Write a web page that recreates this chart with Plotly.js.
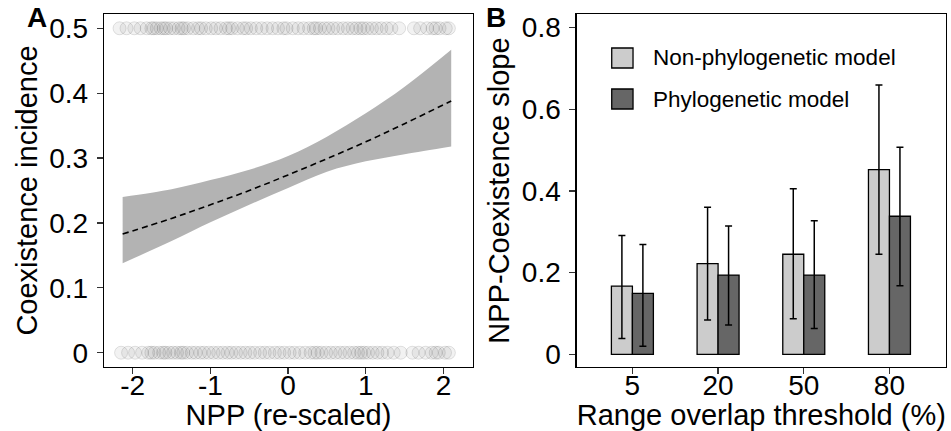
<!DOCTYPE html>
<html><head><meta charset="utf-8">
<script src="https://cdn.plot.ly/plotly-3.0.1.min.js"></script>
<style>html,body{margin:0;padding:0;background:#fff}#chart{width:951px;height:431px}</style>
</head><body><div id="chart"></div>
<script>
// Panel A: fitted logistic curve with confidence band
const nppGrid = [-2.13, -1.5, -1.0, -0.5, 0, 0.5, 1.0, 1.5, 2.1];
const fitLine = [0.183, 0.207, 0.228, 0.250, 0.274, 0.299, 0.325, 0.353, 0.388];
const ciUpper = [0.240, 0.252, 0.266, 0.282, 0.303, 0.333, 0.369, 0.410, 0.467];
const ciLower = [0.138, 0.172, 0.201, 0.228, 0.254, 0.279, 0.295, 0.306, 0.318];
// observed pairs (coexisting drawn at 0.5, not coexisting at 0)
const obsCoexistX = [-2.17,-2.08,-1.98,-1.9,-1.82,-1.76,-1.73,-1.69,-1.64,-1.6,-1.57,-1.52,-1.47,-1.41,-1.37,-1.34,-1.29,-1.22,-1.16,-1.12,-1.06,-0.99,-0.93,-0.87,-0.8,-0.76,-0.72,-0.65,-0.58,-0.54,-0.48,-0.41,-0.34,-0.27,-0.2,-0.13,-0.06,-0.02,0.06,0.13,0.2,0.27,0.33,0.36,0.41,0.47,0.52,0.58,0.64,0.71,0.77,0.83,0.88,0.93,0.97,1.02,1.08,1.14,1.2,1.27,1.33,1.43,1.62,1.7,1.79,1.86,1.9,1.95,2.03,2.07];
const obsNoCoexistX = [-2.15,-2.06,-1.97,-1.88,-1.8,-1.76,-1.72,-1.66,-1.61,-1.58,-1.53,-1.48,-1.43,-1.38,-1.35,-1.3,-1.24,-1.19,-1.13,-1.08,-1.02,-0.96,-0.9,-0.84,-0.78,-0.73,-0.67,-0.61,-0.55,-0.49,-0.43,-0.36,-0.3,-0.24,-0.17,-0.11,-0.05,0.02,0.08,0.15,0.22,0.29,0.34,0.38,0.43,0.49,0.55,0.61,0.67,0.73,0.79,0.85,0.9,0.94,0.98,1.03,1.09,1.15,1.21,1.28,1.36,1.45,1.6,1.68,1.77,1.85,1.9,1.94,2.02,2.07];
const coexistLevel = 0.5;
const noCoexistLevel = 0;

// Panel B: NPP-coexistence slopes
const thresholds = ['5', '20', '50', '80'];
const slopeNonPhylo = [0.167, 0.222, 0.245, 0.452];
const upperNonPhylo = [0.291, 0.360, 0.405, 0.659];
const lowerNonPhylo = [0.039, 0.084, 0.087, 0.245];
const slopePhylo = [0.149, 0.194, 0.194, 0.338];
const upperPhylo = [0.269, 0.314, 0.327, 0.507];
const lowerPhylo = [0.020, 0.072, 0.063, 0.168];

const FONT = 'Liberation Sans, Arial, Helvetica, sans-serif';
const ptMarker = {size: 13, color: 'rgba(0,0,0,0.05)', line: {color: 'rgba(0,0,0,0.11)', width: 1}};

const traces = [
  {x: obsCoexistX, y: obsCoexistX.map(() => coexistLevel), type: 'scatter', mode: 'markers',
   marker: ptMarker, xaxis: 'x', yaxis: 'y', showlegend: false, hoverinfo: 'x'},
  {x: obsNoCoexistX, y: obsNoCoexistX.map(() => noCoexistLevel), type: 'scatter', mode: 'markers',
   marker: ptMarker, xaxis: 'x', yaxis: 'y', showlegend: false, hoverinfo: 'x'},
  {x: nppGrid, y: ciLower, type: 'scatter', mode: 'lines',
   line: {width: 0, shape: 'spline', color: '#b3b3b3'}, xaxis: 'x', yaxis: 'y', showlegend: false, hoverinfo: 'skip'},
  {x: nppGrid, y: ciUpper, type: 'scatter', mode: 'lines', fill: 'tonexty', fillcolor: '#b3b3b3',
   line: {width: 0, shape: 'spline', color: '#b3b3b3'}, xaxis: 'x', yaxis: 'y', showlegend: false, hoverinfo: 'skip'},
  {x: nppGrid, y: fitLine, type: 'scatter', mode: 'lines',
   line: {color: '#000', width: 1.6, dash: '6px,4px', shape: 'spline'}, xaxis: 'x', yaxis: 'y', showlegend: false},
  {x: thresholds, y: slopeNonPhylo, type: 'bar', name: 'Non-phylogenetic model', xaxis: 'x2', yaxis: 'y2',
   marker: {color: '#cccccc', line: {color: '#000', width: 1.3}},
   error_y: {type: 'data', symmetric: false,
     array: upperNonPhylo.map((u, i) => u - slopeNonPhylo[i]),
     arrayminus: lowerNonPhylo.map((l, i) => slopeNonPhylo[i] - l),
     color: '#000', thickness: 1.5, width: 3.5}, showlegend: false},
  {x: thresholds, y: slopePhylo, type: 'bar', name: 'Phylogenetic model', xaxis: 'x2', yaxis: 'y2',
   marker: {color: '#666666', line: {color: '#000', width: 1.3}},
   error_y: {type: 'data', symmetric: false,
     array: upperPhylo.map((u, i) => u - slopePhylo[i]),
     arrayminus: lowerPhylo.map((l, i) => slopePhylo[i] - l),
     color: '#000', thickness: 1.5, width: 3.5}, showlegend: false}
];

const axisCommon = {
  showline: true, mirror: true, linecolor: '#000', linewidth: 1.3,
  ticks: 'outside', ticklen: 6, tickwidth: 1.3, tickcolor: '#333',
  showgrid: false, zeroline: false,
  tickfont: {family: FONT, size: 28, color: '#000'}
};
const titleFont = {family: FONT, size: 29, color: '#000'};

const layout = {
  width: 951, height: 431,
  margin: {l: 104, r: 5, t: 14, b: 64},
  paper_bgcolor: '#fff', plot_bgcolor: '#fff',
  font: {family: FONT, color: '#000'},
  showlegend: false,
  bargap: 0.51, bargroupgap: 0, barmode: 'group',
  xaxis: Object.assign({}, axisCommon, {domain: [0, 0.4382], range: [-2.37, 2.38],
    tickvals: [-2, -1, 0, 1, 2], ticktext: ['-2', '-1', '0', '1', '2'], anchor: 'y',
    ticklabelstandoff: -13,
    title: {text: 'NPP (re-scaled)', font: titleFont, standoff: 1}}),
  yaxis: Object.assign({}, axisCommon, {domain: [0, 1], range: [-0.022, 0.522],
    tickvals: [0, 0.1, 0.2, 0.3, 0.4, 0.5], ticktext: ['0', '0.1', '0.2', '0.3', '0.4', '0.5'], anchor: 'x',
    ticklabelstandoff: 3,
    title: {text: 'Coexistence incidence', font: titleFont, standoff: 3}}),
  xaxis2: Object.assign({}, axisCommon, {domain: [0.5614, 1], type: 'category', range: [-0.65, 3.66], anchor: 'y2',
    ticklabelstandoff: -13,
    title: {text: 'Range overlap threshold (%)', font: titleFont, standoff: 1}}),
  yaxis2: Object.assign({}, axisCommon, {domain: [0, 1], range: [-0.031, 0.833], anchor: 'x2',
    tickvals: [0, 0.2, 0.4, 0.6, 0.8], ticktext: ['0', '0.2', '0.4', '0.6', '0.8'],
    ticklabelstandoff: 3,
    title: {text: 'NPP-Coexistence slope', font: titleFont, standoff: 3}}),
  shapes: [
    {type: 'rect', xref: 'paper', yref: 'paper', x0: 0.603, x1: 0.6283, y0: 0.847, y1: 0.9037,
     fillcolor: '#cccccc', line: {color: '#000', width: 1.3}},
    {type: 'rect', xref: 'paper', yref: 'paper', x0: 0.603, x1: 0.6283, y0: 0.7309, y1: 0.7875,
     fillcolor: '#666666', line: {color: '#000', width: 1.3}}
  ],
  annotations: [
    {text: 'Non-phylogenetic model', xref: 'paper', yref: 'paper', x: 0.6493, y: 0.8754,
     xanchor: 'left', yanchor: 'middle', showarrow: false, font: {family: FONT, size: 22.5, color: '#000'}},
    {text: 'Phylogenetic model', xref: 'paper', yref: 'paper', x: 0.6493, y: 0.7592,
     xanchor: 'left', yanchor: 'middle', showarrow: false, font: {family: FONT, size: 22.5, color: '#000'}},
    {text: '<b>A</b>', xref: 'paper', yref: 'paper', x: -0.0795, y: 0.9887,
     xanchor: 'center', yanchor: 'middle', showarrow: false, font: {family: FONT, size: 28, color: '#000'}},
    {text: '<b>B</b>', xref: 'paper', yref: 'paper', x: 0.4656, y: 0.9887,
     xanchor: 'center', yanchor: 'middle', showarrow: false, font: {family: FONT, size: 28, color: '#000'}}
  ]
};

Plotly.newPlot('chart', traces, layout, {displayModeBar: false, staticPlot: true});
</script>
</body></html>
